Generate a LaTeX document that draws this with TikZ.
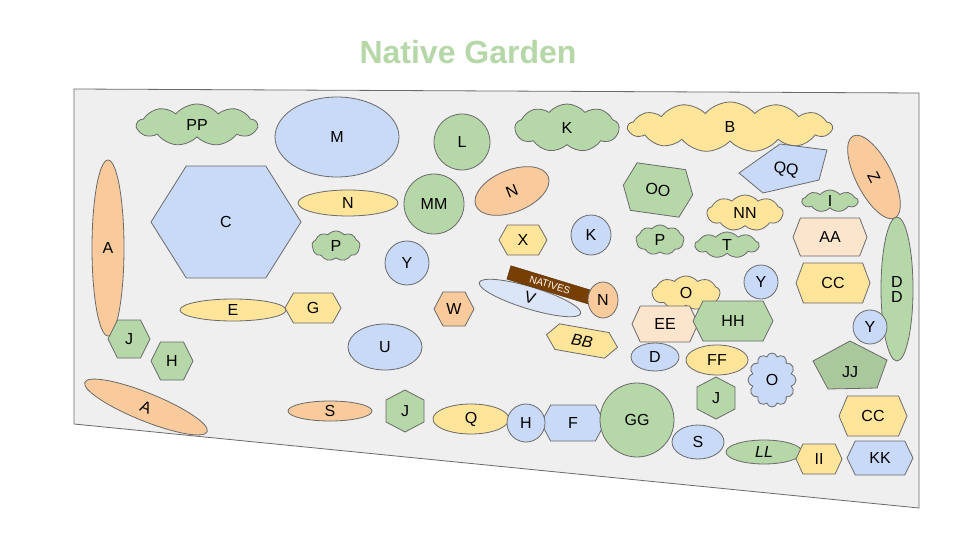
\documentclass[tikz,border=0pt]{standalone}
\usepackage{fontspec}
\setmainfont{Liberation Sans}
\usetikzlibrary{shapes.geometric,shapes.symbols}
\definecolor{gr}{HTML}{B6D7A8}
\definecolor{gr2}{HTML}{A9C89C}
\definecolor{og}{HTML}{F9CB9C}
\definecolor{bl}{HTML}{C9DAF8}
\definecolor{ye}{HTML}{FFE599}
\definecolor{pe}{HTML}{FCE5CD}
\definecolor{lb}{HTML}{DAE6F8}
\definecolor{br}{HTML}{783F04}
\definecolor{ln}{HTML}{6A6A6A}
\definecolor{bgc}{HTML}{EFEFEF}
\newcommand\hexa[9]{\begin{scope}[shift={(#2,#3)},rotate=#8]
\draw[plant,fill=#6] (-#4,0)--(-#9*#4,-#5)--(#9*#4,-#5)--(#4,0)--(#9*#4,#5)--(-#9*#4,#5)--cycle;
\node[lab,rotate=#8] (#1) at (0,0) {#7};\end{scope}}
\begin{document}
\begin{tikzpicture}[x=1pt,y=-1pt,
  plant/.style={draw=ln,line width=0.8pt},
  lab/.style={font=\fontsize{16}{16}\selectfont,inner sep=0},
  el/.style={plant,ellipse,inner sep=0,font=\fontsize{16}{16}\selectfont},
  cl/.style={plant,cloud,cloud puffs=9,cloud puff arc=100,cloud ignores aspect,inner sep=0,font=\fontsize{16}{16}\selectfont}]
\useasboundingbox (0,0) rectangle (960,540);
\fill[white] (0,0) rectangle (960,540);
\node[font=\fontsize{32}{32}\selectfont\bfseries,text=gr] (title) at (468,52) {Native Garden};
\draw[ln,fill=bgc,line width=0.8pt] (74,89)--(919,93)--(919,508)--(74,424)--cycle;
% top row
\node[cl,fill=gr,minimum width=120,minimum height=42] (pp) at (197,125) {PP};
\node[el,fill=bl,minimum width=124,minimum height=80] (m) at (337,137) {M};
\node[el,fill=gr,minimum width=56,minimum height=56] (l) at (462,142) {L};
\node[cl,fill=gr,minimum width=104,minimum height=48] (k) at (567,128) {K};
\node[cl,fill=ye,minimum width=204,minimum height=50,cloud puffs=13] (b) at (730,127) {B};
\draw[plant,fill=bl] (739,173)--(780,144)--(827,150)--(819,180)--(763,193)--cycle;
\node[lab,rotate=-5] (qq) at (786,170) {QQ};
\node[el,fill=og,minimum width=92,minimum height=36,rotate=-63] (z) at (874,177) {Z};
% left
\node[el,fill=og,minimum width=32,minimum height=176] (a1) at (108,248) {A};
\hexa{c}{226}{222}{75}{56}{bl}{C}{0}{0.53}
\node[el,fill=ye,minimum width=100,minimum height=26] (n1) at (348,203) {N};
\node[el,fill=gr,minimum width=60,minimum height=60] (mm) at (434,204) {MM};
\node[el,fill=og,minimum width=78,minimum height=42,rotate=22] (n2) at (512,191) {N};
\hexa{oo}{658}{190}{35}{24}{gr}{OO}{-8}{0.7}
\node[cl,fill=ye,minimum width=76,minimum height=36] (nn) at (745,213) {NN};
\node[cl,fill=gr,minimum width=56,minimum height=22] (i) at (830,201) {I};
\node[cl,fill=gr,minimum width=48,minimum height=30] (p1) at (336,246) {P};
\node[el,fill=bl,minimum width=44,minimum height=44] (y1) at (407,263) {Y};
\hexa{x}{523}{240}{24}{15}{ye}{X}{0}{0.65}
\node[el,fill=bl,minimum width=40,minimum height=40] (k2) at (591,235) {K};
\node[cl,fill=gr,minimum width=48,minimum height=30] (p2) at (660,240) {P};
\node[cl,fill=gr,minimum width=64,minimum height=26] (t) at (727,245) {T};
\hexa{aa}{830}{237}{37}{19}{pe}{AA}{0}{0.8}
\node[el,fill=gr,minimum width=32,minimum height=144,align=center] (dd) at (897,289) {D\\[-1pt]D};
\node[el,fill=bl,minimum width=34,minimum height=34] (y2) at (761,282) {Y};
\hexa{cc1}{833}{283}{37}{20}{ye}{CC}{0}{0.8}
\node[el,fill=bl,minimum width=34,minimum height=34] (y3) at (870,327) {Y};
\node[cl,fill=ye,minimum width=68,minimum height=34] (o1) at (686,293) {O};
% natives
\node[el,fill=lb,minimum width=106,minimum height=22,rotate=-17] (v) at (530,298) {\raisebox{-4pt}{V}};
\node[fill=br,draw=br!70!black,minimum width=86,minimum height=14,inner sep=0,rotate=-17,text=white,font=\fontsize{10}{10}\selectfont] (nat) at (550,285) {NATIVES};
\node[el,fill=og,minimum width=30,minimum height=36] (n3) at (603,300) {N};
\node[el,fill=ye,minimum width=106,minimum height=22] (e) at (233,310) {E};
\hexa{g}{313}{308}{28}{15}{ye}{G}{0}{0.7}
\hexa{w}{454}{309}{20}{17}{og}{W}{0}{0.55}
\hexa{ee}{665}{324}{33}{18}{pe}{EE}{0}{0.75}
\hexa{hh}{733}{321}{40}{20}{gr}{HH}{0}{0.75}
\hexa{j1}{129}{339}{21}{19}{gr}{J}{0}{0.55}
\hexa{h1}{172}{361}{21}{19}{gr}{H}{0}{0.55}
\node[el,fill=bl,minimum width=74,minimum height=46] (u) at (385,347) {U};
\hexa{bb}{582}{341}{36}{13}{ye}{\textit{BB}}{-10}{0.7}
\node[el,fill=bl,minimum width=48,minimum height=28] (d) at (655,357) {D};
\node[el,fill=ye,minimum width=62,minimum height=30] (ff) at (717,360) {FF};
\node[plant,cloud,cloud puffs=12,cloud ignores aspect,inner sep=0,font=\fontsize{16}{16}\selectfont,fill=bl,minimum width=48,minimum height=54] (o2) at (772,380) {O};
\draw[plant,fill=gr2] (813,361)--(850,341)--(887,360)--(877,388)--(828,389)--cycle;
\node[lab] (jj) at (850,372) {JJ};
\node[el,fill=og,minimum width=132,minimum height=28,rotate=-22] (a2) at (146,407) {A};
% bottom
\begin{scope}[shift={(716,398)}]
\draw[plant,fill=gr] (0,-21)--(19,-11)--(19,11)--(0,21)--(-19,11)--(-19,-11)--cycle;
\node[lab] (j2) at (0,0) {J};\end{scope}
\node[el,fill=og,minimum width=84,minimum height=20] (s1) at (330,411) {S};
\begin{scope}[shift={(405,411)}]
\draw[plant,fill=gr] (0,-21)--(19,-11)--(19,11)--(0,21)--(-19,11)--(-19,-11)--cycle;
\node[lab] (j3) at (0,0) {J};\end{scope}
\node[el,fill=ye,minimum width=76,minimum height=30] (q) at (471,419) {Q};
\hexa{f}{573}{423}{32}{18}{bl}{F}{0}{0.7}
\node[el,fill=bl,minimum width=38,minimum height=38] (h2) at (526,423) {H};
\node[el,fill=gr,minimum width=74,minimum height=74] (gg) at (637,420) {GG};
\hexa{cc2}{873}{416}{34}{20}{ye}{CC}{0}{0.75}
\node[el,fill=bl,minimum width=52,minimum height=34] (s2) at (698,442) {S};
\node[el,fill=gr,minimum width=76,minimum height=24] (ll) at (764,452) {\textit{LL}};
\hexa{ii}{819}{459}{23}{15}{ye}{II}{0}{0.7}
\hexa{kk}{880}{458}{33}{17}{bl}{KK}{0}{0.75}
\end{tikzpicture}
\end{document}
